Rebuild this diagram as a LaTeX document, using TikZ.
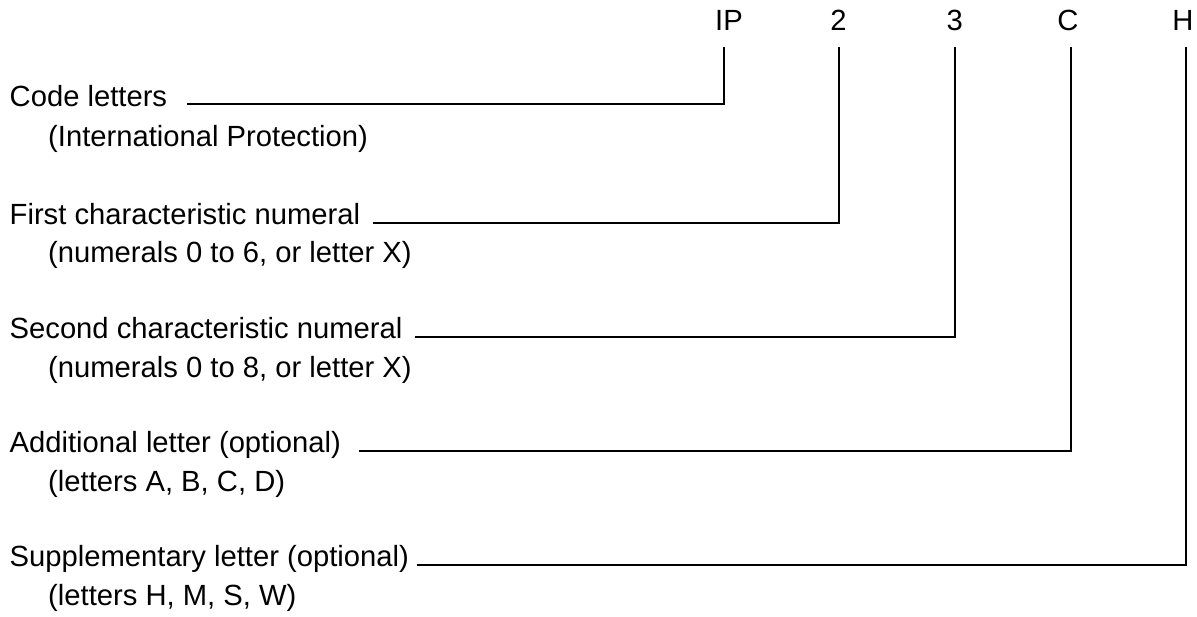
\documentclass[tikz,border=0pt]{standalone}
\usepackage{fontspec}
\setmainfont{Liberation Sans}
\begin{document}
\begin{tikzpicture}[x=1pt,y=-1pt,
  lbl/.style={anchor=base west,inner sep=0pt,font=\fontsize{29.2}{35}\selectfont},
  toplbl/.style={anchor=base,inner sep=0pt,font=\fontsize{29.2}{35}\selectfont},
  conn/.style={line width=2pt,line join=miter}]
\useasboundingbox[fill=white] (0,0) rectangle (1197,616);
% top labels
\node[toplbl] (ip) at (729,30) {IP};
\node[toplbl] (n2) at (838.5,30) {2};
\node[toplbl] (n3) at (954.7,30) {3};
\node[toplbl] (lc) at (1068,30) {C};
\node[toplbl] (lh) at (1183,30) {H};
% tops of vertical lines
\coordinate (t1) at (724.3,46.7);
\coordinate (t2) at (839.3,46.7);
\coordinate (t3) at (955,46.7);
\coordinate (t4) at (1070.5,46.7);
\coordinate (t5) at (1185.5,46.7);
% left texts
\node[lbl] (a1) at (9.5,106.5) {Code letters};
\node[lbl] (b1) at (48,146) {(International Protection)};
\node[lbl] (a2) at (9.5,224) {First characteristic numeral};
\node[lbl] (b2) at (48,262) {(numerals 0 to 6, or letter X)};
\node[lbl] (a3) at (9.5,338.5) {Second characteristic numeral};
\node[lbl] (b3) at (48,377) {(numerals 0 to 8, or letter X)};
\node[lbl] (a4) at (9.5,452.2) {Additional letter (optional)};
\node[lbl] (b4) at (48,491) {(letters A, B, C, D)};
\node[lbl] (a5) at (9.5,566.8) {Supplementary letter (optional)};
\node[lbl] (b5) at (48,605) {(letters H, M, S, W)};
% line starts
\coordinate (s1) at (186.7,104.4);
\coordinate (s2) at (372.7,222.7);
\coordinate (s3) at (415,337);
\coordinate (s4) at (359.3,450.7);
\coordinate (s5) at (416.7,565.3);
% connectors
\draw[conn] (s1) -| (t1);
\draw[conn] (s2) -| (t2);
\draw[conn] (s3) -| (t3);
\draw[conn] (s4) -| (t4);
\draw[conn] (s5) -| (t5);
\end{tikzpicture}
\end{document}
